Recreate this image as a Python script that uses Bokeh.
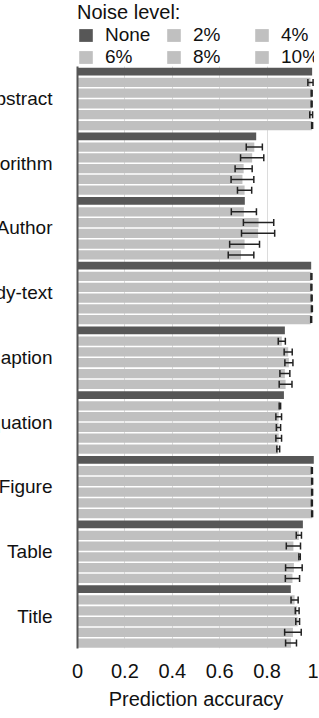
from bokeh.plotting import figure
from bokeh.models import (FactorRange, Range1d, Whisker, ColumnDataSource, Legend,
                          LegendItem, TeeHead, FixedTicker, NumeralTickFormatter)
from bokeh.transform import dodge
from bokeh.embed import file_html
from bokeh.resources import INLINE

categories = ["Abstract", "Algorithm", "Author", "Body-text", "Caption",
              "Equation", "Figure", "Table", "Title"]
levels = ["None", "2%", "4%", "6%", "8%", "10%"]

acc_none = [0.990, 0.754, 0.706, 0.986, 0.875, 0.871, 0.997, 0.951, 0.900]

acc_2 = [0.983, 0.746, 0.702, 0.987, 0.862, 0.854, 0.989, 0.934, 0.916]
err_2 = [0.011, 0.034, 0.053, 0.002, 0.015, 0.003, 0.002, 0.011, 0.015]

acc_4 = [0.988, 0.737, 0.764, 0.987, 0.889, 0.849, 0.990, 0.911, 0.927]
err_4 = [0.002, 0.049, 0.064, 0.002, 0.017, 0.012, 0.002, 0.030, 0.008]

acc_6 = [0.988, 0.701, 0.762, 0.988, 0.892, 0.848, 0.990, 0.937, 0.929]
err_6 = [0.002, 0.036, 0.070, 0.002, 0.017, 0.009, 0.002, 0.003, 0.008]

acc_8 = [0.986, 0.696, 0.705, 0.989, 0.875, 0.849, 0.989, 0.913, 0.909]
err_8 = [0.006, 0.048, 0.063, 0.002, 0.021, 0.012, 0.002, 0.035, 0.035]

acc_10 = [0.990, 0.705, 0.690, 0.986, 0.878, 0.847, 0.990, 0.907, 0.901]
err_10 = [0.002, 0.030, 0.054, 0.002, 0.027, 0.006, 0.002, 0.030, 0.023]

x_ticks = [0, 0.2, 0.4, 0.6, 0.8, 1.0]

FONT = "Liberation Sans"
DARK = "#575757"
LIGHT = "#c0c0c0"

# one blank row at the top of the frame holds the legend
y_factors = categories[::-1] + [" "]

p = figure(y_range=FactorRange(factors=y_factors, range_padding=0),
           x_range=Range1d(0, 1),
           width=351, height=718, output_backend="svg", toolbar_location=None,
           min_border_left=110, min_border_right=4, min_border_top=1,
           min_border_bottom=70)
p.styles = {"margin": "0px 0px -8px -33px"}
p.outline_line_color = None
p.background_fill_color = "white"

series = [(acc_none, None), (acc_2, err_2), (acc_4, err_4), (acc_6, err_6),
          (acc_8, err_8), (acc_10, err_10)]

renderers = []
n = len(levels)
for i, (acc, err) in enumerate(series):
    off = 0.5 - (i + 0.5) / n
    data = dict(cat=categories, acc=acc)
    if err is not None:
        data["lower"] = [a - e for a, e in zip(acc, err)]
        data["upper"] = [a + e for a, e in zip(acc, err)]
    src = ColumnDataSource(data)
    h = 0.12 if i == 0 else 0.143
    r = p.hbar(y=dodge("cat", off, range=p.y_range), left=0, right="acc",
               height=h, source=src, fill_color=DARK if i == 0 else LIGHT,
               line_color=None)
    renderers.append(r)
    if err is not None:
        w = Whisker(base=dodge("cat", off, range=p.y_range), lower="lower",
                    upper="upper", dimension="width", source=src,
                    line_color="#222222", line_width=1.5, level="annotation",
                    upper_head=TeeHead(size=7, line_color="#222222", line_width=1.5),
                    lower_head=TeeHead(size=7, line_color="#222222", line_width=1.5))
        p.add_layout(w)

# axes
xa = p.xaxis[0]
xa.ticker = FixedTicker(ticks=x_ticks)
xa.formatter = NumeralTickFormatter(format="0.[0]")
xa.axis_line_color = None
xa.major_tick_line_color = None
xa.minor_tick_line_color = None
xa.major_tick_out = 0
xa.major_tick_in = 0
xa.major_label_standoff = 15
xa.major_label_text_font = FONT
xa.major_label_text_font_size = "20px"
xa.major_label_text_color = "#111111"
xa.axis_label = "Prediction accuracy"
xa.axis_label_text_font = FONT
xa.axis_label_text_font_size = "20px"
xa.axis_label_text_font_style = "normal"
xa.axis_label_text_color = "#111111"
xa.axis_label_standoff = 7

ya = p.yaxis[0]
ya.bounds = (0, len(categories))
ya.axis_line_color = "#555555"
ya.axis_line_width = 2
ya.major_tick_line_color = None
ya.minor_tick_line_color = None
ya.major_tick_out = 0
ya.major_tick_in = 0
ya.major_label_standoff = 25
ya.major_label_text_font = FONT
ya.major_label_text_font_size = "19px"
ya.major_label_text_color = "#111111"

p.ygrid.grid_line_color = None
xg = p.xgrid[0]
xg.ticker = FixedTicker(ticks=x_ticks)
xg.grid_line_color = "#dcdcdc"
xg.grid_line_width = 1
try:
    xg.cross_bounds = (0, len(categories))
except Exception:
    pass

legend = Legend(items=[LegendItem(label=lv, renderers=[r]) for lv, r in zip(levels, renderers)],
                orientation="horizontal", ncols=3, location="top_left",
                title="Noise level:",
                title_text_font=FONT, title_text_font_size="20px",
                title_text_font_style="normal", title_text_color="#111111",
                title_standoff=0,
                label_text_font=FONT, label_text_font_size="19px",
                label_text_color="#111111", label_standoff=11, label_height=21,
                label_width=60,
                glyph_width=17, glyph_height=16, spacing=0,
                padding=0, margin=0, border_line_color=None,
                background_fill_alpha=0)
p.add_layout(legend)

open("out.html", "w").write(file_html(p, INLINE))
